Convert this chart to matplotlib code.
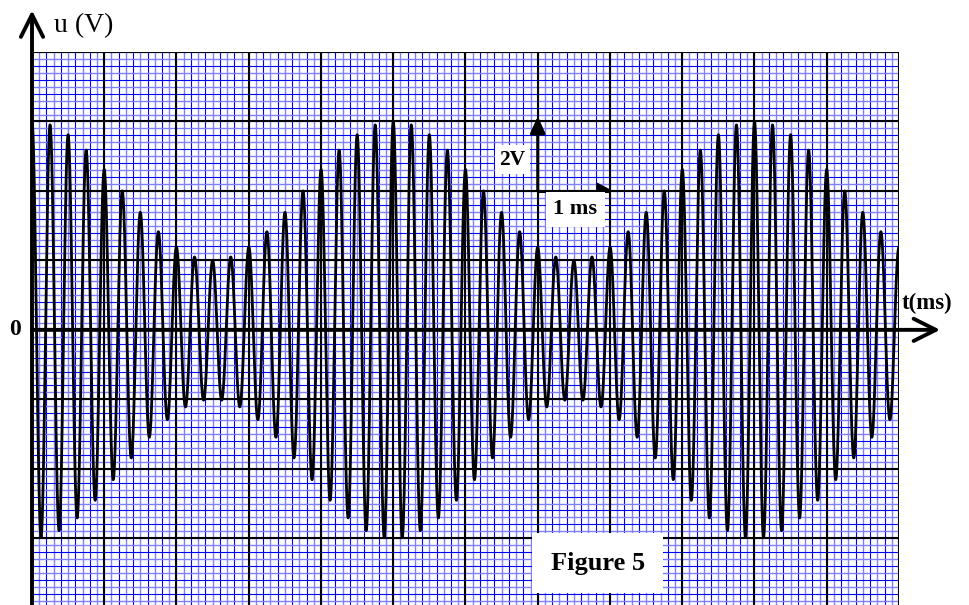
import numpy as np
import matplotlib
matplotlib.use('Agg')
import matplotlib.pyplot as plt
from matplotlib.patches import Polygon

# values
u_max = 6.0        # V, largest peaks
u_min = 2.0        # V, smallest peaks
f_carrier = 4.0    # kHz (period 0.25 ms)
f_mod = 0.2        # kHz (period 5 ms)
t_end = 12.0       # ms
u_lim = [-8, 8]    # V
scale_origin = [7, 4]   # ms, V
scale_size = [1, 2]     # 1 ms, 2 V

serif = 'Liberation Serif'

t = np.linspace(0, t_end, 12001)
A = (u_max + u_min) / 2
m = (u_max - u_min) / 2
u = (A + m*np.cos(2*np.pi*f_mod*t)) * np.cos(2*np.pi*f_carrier*t)

fig = plt.figure(figsize=(9.7, 6.05), dpi=100)
ax = fig.add_axes([32/970, -2.7/605, 867/970, 555.7/605])
ax.set_xlim(0, t_end)
ax.set_ylim(*u_lim)
ax.axis('off')

# graph paper: minor lines alternate bright / pale like the scanned sheet
xs = np.arange(0, t_end + 0.01, 0.1)
ys = np.arange(u_lim[0], u_lim[1] + 0.01, 0.2)
ax.vlines(xs[::2], *u_lim, color='#0000ff', lw=0.8, zorder=1)
ax.vlines(xs[1::2], *u_lim, color='#8080ff', lw=1.0, zorder=1)
ax.hlines(ys[::2], 0, t_end, color='#0000ff', lw=0.8, zorder=1)
ax.hlines(ys[1::2], 0, t_end, color='#8080ff', lw=1.0, zorder=1)
ax.vlines(np.arange(0, t_end + 0.01, 1), *u_lim, color='k', lw=1.5, zorder=2)
ax.hlines(np.arange(u_lim[0], u_lim[1] + 0.01, 2), 0, t_end, color='k', lw=1.5, zorder=2)

ax.plot(t, u, color='k', lw=2.0, zorder=3)

# axes with open arrow heads
arr = dict(arrowstyle='->,head_length=1.6,head_width=0.8', lw=2.8, color='k',
           shrinkA=0, shrinkB=0)
ax.annotate('', xy=(12.57, 0), xytext=(0, 0), arrowprops=arr,
            annotation_clip=False, zorder=5)
ax.annotate('', xy=(0, 9.2), xytext=(0, u_lim[0] - 0.3), arrowprops=arr,
            annotation_clip=False, zorder=5)

ax.text(0.3, 8.75, 'u (V)', fontsize=20, family=serif, va='center', clip_on=False)
ax.text(12.04, 0.75, 't(ms)', fontsize=16.5, family=serif, weight='bold',
        va='center', clip_on=False)
ax.text(-0.235, 0, '0', fontsize=17, family=serif, weight='bold',
        ha='center', va='center', clip_on=False)

# scale bars
x0, y0 = scale_origin
dx, dy = scale_size
ax.annotate('', xy=(x0, y0 + dy + 0.15), xytext=(x0, y0),
            arrowprops=dict(arrowstyle='-|>,head_length=1.0,head_width=0.45',
                            lw=2.2, color='k', shrinkA=0, shrinkB=0), zorder=6)
ax.plot([x0, x0 + dx], [y0, y0], color='k', lw=2.2, zorder=6, solid_capstyle='butt')
ax.add_patch(Polygon([[x0 + dx - 0.18, y0 + 0.22], [x0 + dx + 0.02, y0],
                      [x0 + dx - 0.18, y0]], closed=True, color='k', zorder=6))
ax.text(x0 - 0.17, y0 + dy/2 - 0.1, '2V', fontsize=15.5, family=serif, weight='bold',
        ha='right', va='center', zorder=6,
        bbox=dict(boxstyle='square,pad=0.2', fc='white', ec='none'))
ax.text(x0 + dx/2 + 0.02, y0 - 0.53, '1 ms', fontsize=16, family=serif, weight='bold',
        ha='center', va='center', zorder=6,
        bbox=dict(boxstyle='square,pad=0.35', fc='white', ec='none'))

ax.text(7.83, -6.72, 'Figure 5', fontsize=19, family=serif, weight='bold',
        ha='center', va='center', zorder=6,
        bbox=dict(boxstyle='square,pad=0.7', fc='white', ec='none'))

fig.savefig('out.png', dpi=100)
